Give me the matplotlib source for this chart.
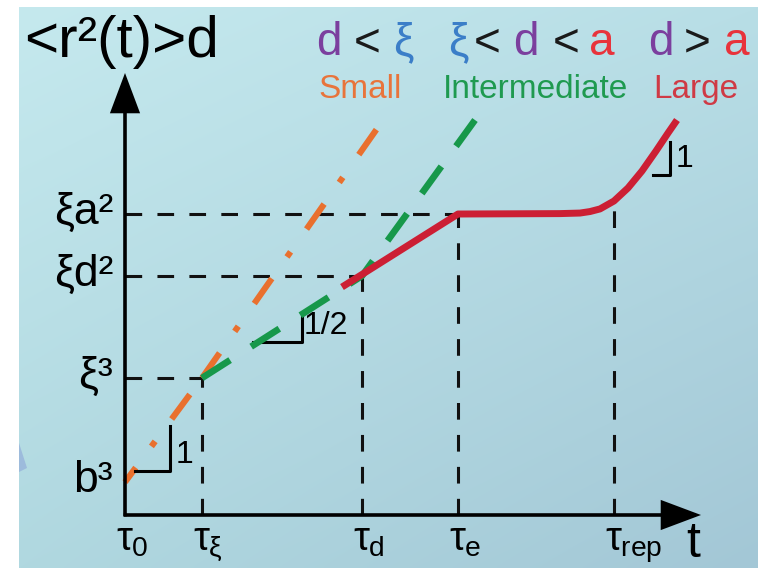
import numpy as np
import matplotlib
matplotlib.use("Agg")
import matplotlib.pyplot as plt
import matplotlib.transforms as mtransforms
from matplotlib.patches import Polygon

plt.rcParams["font.family"] = ["Liberation Sans", "DejaVu Sans"]
plt.rcParams["mathtext.fontset"] = "custom"
plt.rcParams["mathtext.rm"] = "Liberation Sans"
plt.rcParams["mathtext.it"] = "Liberation Sans"
plt.rcParams["mathtext.sf"] = "Liberation Sans"
plt.rcParams["mathtext.bf"] = "Liberation Sans:bold"
plt.rcParams["lines.scale_dashes"] = False

# ---- data (log t, log <r^2>) ----
t_labels = [r"$\tau_0$", r"$\tau_\xi$", r"$\tau_d$", r"$\tau_e$", r"$\tau_{rep}$"]
t_marks = [0.0, 0.77, 2.37, 3.33, 4.89]

level_labels = ["b³", "ξ³", "ξd²", "ξa²"]
levels = [0.24, 1.00, 1.745, 2.197]

# small particles: d < xi
small_t = [0.0, 0.77, 2.53]
small_r = [0.24, 1.00, 2.83]

# intermediate particles: xi < d < a
inter_t = [0.77, 2.37, 3.50]
inter_r = [1.00, 1.745, 2.883]

# large particles: d > a
large_t = [2.17, 3.33, 4.35, 4.55, 4.65, 4.75, 4.89, 5.03, 5.17, 5.31, 5.43, 5.52]
large_r = [1.664, 2.197, 2.200, 2.204, 2.215, 2.234, 2.292, 2.387, 2.511, 2.657, 2.788, 2.883]

W, H = 758, 568
fig = plt.figure(figsize=(W / 100, H / 100), dpi=100, facecolor="white")

# soft blue backdrop
bg = fig.add_axes([19 / W, 0, 1 - 19 / W, (H - 7) / H], zorder=0)
bg.axis("off")
yy, xx = np.mgrid[0:1:200j, 0:1:200j]
c_tl = np.array([197, 233, 238]) / 255
c_tr = np.array([184, 222, 230]) / 255
c_bl = np.array([176, 216, 224]) / 255
c_br = np.array([163, 199, 214]) / 255
img = (c_tl[None, None] * ((1 - xx) * (1 - yy))[..., None]
       + c_tr[None, None] * (xx * (1 - yy))[..., None]
       + c_bl[None, None] * ((1 - xx) * yy)[..., None]
       + c_br[None, None] * (xx * yy)[..., None])
bg.imshow(img, aspect="auto", extent=[0, 1, 1, 0], interpolation="bilinear")
bg.set_xlim(0, 1)
bg.set_ylim(1, 0)

ax = fig.add_axes([0, 0, 1, 1], zorder=1)
ax.patch.set_alpha(0)
ax.set_xlim(-1.25, 6.33)
ax.set_ylim(-53 / 137, 515 / 137)
ax.axis("off")

pix = mtransforms.Affine2D().scale(1, -1).translate(0, H)

# faint fragment on the left edge
fig.patches.append(Polygon([(19, H - 443), (27, H - 468), (19, H - 472)],
                           closed=True, transform=None,
                           facecolor="#9dbbdc", edgecolor="none", zorder=0.5))

# axes arrows
arrow_kw = dict(arrowstyle="-|>,head_length=1.2,head_width=0.45",
                mutation_scale=20, lw=2.6, color="black",
                shrinkA=0, shrinkB=0, joinstyle="miter", capstyle="butt")
ax.annotate("", xy=(0, (515 - 73) / 137), xytext=(0, -0.01),
            arrowprops=arrow_kw, zorder=5)
ax.annotate("", xy=(5.76, 0), xytext=(-0.013, 0),
            arrowprops=arrow_kw, zorder=5)

# guide lines
guide = dict(color="#111111", lw=2.2, linestyle=(0, (12, 11)), zorder=2,
             dash_capstyle="butt")
for lv, tm in zip(levels[1:], t_marks[1:4]):
    ax.plot([0, tm], [lv, lv], **guide)
    ax.plot([tm, tm], [0, lv], **guide)
rep_level = np.interp(t_marks[4], large_t, large_r)
ax.plot([t_marks[4], t_marks[4]], [0, rep_level], **guide)

# regime curves
orange = "#E9702E"
green = "#17984A"
red = "#CC1F34"
ax.plot(small_t[:2], small_r[:2], color=orange, lw=4.4,
        linestyle=(9, (22, 19, 4.5, 20)), dash_capstyle="butt", zorder=3)
ax.plot(small_t[1:], small_r[1:], color=orange, lw=4.4,
        linestyle=(0, (22, 19, 4.5, 20)), dash_capstyle="butt", zorder=3)
ax.plot(inter_t, inter_r, color=green, lw=4.8, linestyle=(0, (24, 18)),
        dash_capstyle="butt", solid_joinstyle="round", zorder=3.5)
ax.plot(large_t, large_r, color=red, lw=5.0, solid_capstyle="butt",
        solid_joinstyle="round", zorder=4)

# slope triangles
tri = dict(color="black", lw=2.2, zorder=3)
ax.plot([0.10, 0.45, 0.45], [0.321, 0.321, 0.65], **tri)
ax.text(0.51, 0.33, "1", fontsize=23, ha="left", va="bottom", zorder=6)
ax.plot([1.28, 1.77, 1.77], [1.263, 1.263, 1.46], **tri)
ax.text(1.79, 1.27, "1/2", fontsize=23, ha="left", va="bottom", zorder=6)
ax.plot([5.28, 5.45, 5.45], [2.482, 2.482, 2.723], **tri)
ax.text(5.51, 2.49, "1", fontsize=23, ha="left", va="bottom", zorder=6)

# axis labels
for lab, tm in zip(t_labels, t_marks):
    ax.annotate(lab, xy=(tm, 0), xytext=(-9, -35), textcoords="offset pixels",
                ha="left", va="baseline", fontsize=29, zorder=6)
for lab, lv in zip(level_labels, levels):
    ax.annotate(lab, xy=(0, lv), xytext=(-12, -10), textcoords="offset pixels",
                ha="right", va="baseline", fontsize=32, zorder=6)

ax.text(24, 57, "<r²(t)>d", transform=pix, fontsize=42, ha="left",
        va="baseline", zorder=6)
ax.text(693, 567, "t", transform=pix, fontsize=36, ha="center",
        va="bottom", zorder=6)

# regime headers
purple = "#7B3F9E"
blue = "#3B7EC8"
bright_red = "#E8333B"
ink = "#1a1a1a"
header = [("d", 329, purple), ("<", 367, ink), ("ξ", 403, blue),
          ("ξ", 458, blue), ("<", 487, ink), ("d", 526, purple),
          ("<", 566, ink), ("a", 602, bright_red),
          ("d", 661, purple), (">", 697, ink), ("a", 737, bright_red)]
for ch, x, col in header:
    ax.text(x, 55, ch, transform=pix, fontsize=33, color=col, ha="center",
            va="baseline", zorder=6)

for word, x, col in [("Small", 360, "#E8743B"), ("Intermediate", 535, "#1F9A50"),
                     ("Large", 696, "#CF3A45")]:
    ax.text(x, 98, word, transform=pix, fontsize=24, color=col, ha="center",
            va="baseline", zorder=6)

fig.savefig("out.png", dpi=100, facecolor="white")
